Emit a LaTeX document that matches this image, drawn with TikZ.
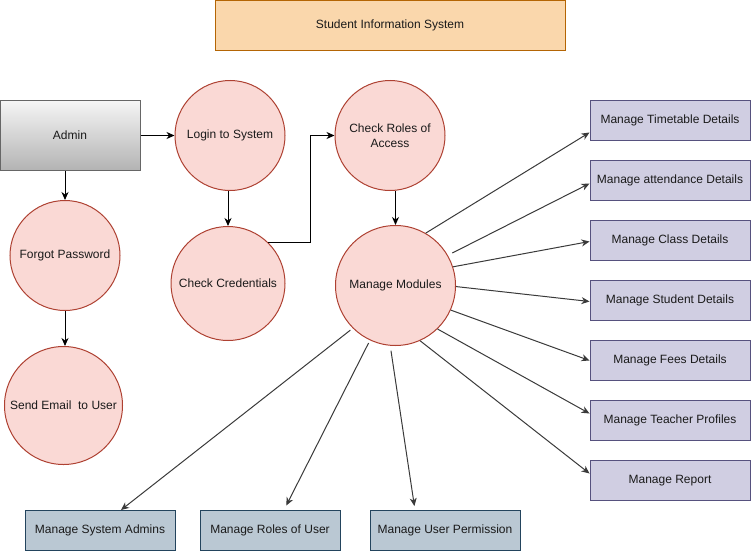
\documentclass[tikz,border=0pt]{standalone}
\usepackage{fontspec}
\setmainfont{Liberation Sans}
\usetikzlibrary{arrows.meta,shapes.geometric}
\definecolor{circfill}{HTML}{FAD9D5}
\definecolor{circline}{HTML}{AE4132}
\definecolor{purpfill}{HTML}{D0CEE2}
\definecolor{purpline}{HTML}{56517E}
\definecolor{bluefill}{HTML}{BAC8D3}
\definecolor{blueline}{HTML}{23445D}
\definecolor{orfill}{HTML}{FAD7AC}
\definecolor{orline}{HTML}{B46504}
\definecolor{admtop}{HTML}{F5F5F5}
\definecolor{admbot}{HTML}{B3B3B3}
\definecolor{admline}{HTML}{666666}
\definecolor{txt}{HTML}{1A1A1A}
\definecolor{ray}{HTML}{3A3A3A}
\tikzset{
  every node/.style={font=\fontsize{12}{14.5}\selectfont, text=txt, align=center},
  proc/.style={circle, draw=circline, fill=circfill, line width=1pt, inner sep=0pt},
  purpbox/.style={rectangle, draw=purpline, fill=purpfill, line width=1pt, minimum width=160pt, minimum height=40pt, inner sep=0pt},
  bluebox/.style={rectangle, draw=blueline, fill=bluefill, line width=1pt, minimum height=40pt, inner sep=0pt},
  flow/.style={-{Stealth[length=8pt,width=7pt,inset=2.5pt]}, line width=1pt, draw=black},
  rayflow/.style={-{Stealth[length=8pt,width=7pt,inset=2.5pt]}, line width=1pt, draw=ray},
}
\begin{document}
\begin{tikzpicture}[x=1pt,y=-1pt]
\useasboundingbox (0,0) rectangle (751,551);
% title
\node[rectangle, draw=orline, fill=orfill, line width=1pt, minimum width=350pt, minimum height=50pt, inner sep=0pt] (title) at (390,25.5) {Student Information System};
% admin
\node[rectangle, draw=admline, top color=admtop, bottom color=admbot, line width=1pt, minimum width=140pt, minimum height=70pt, inner sep=0pt] (admin) at (70,135.5) {Admin};
% processes
\node[proc, minimum size=110pt] (login) at (230,135.5) {Login to System};
\node[proc, minimum size=110pt] (roles) at (390,135.5) {Check Roles of\\Access};
\node[proc, minimum size=110pt] (forgot) at (65,255.5) {Forgot Password};
\node[proc, minimum size=114pt] (cred) at (228,283.5) {Check Credentials};
\node[proc, minimum size=120pt] (mm) at (395.5,285.5) {Manage Modules};
\node[proc, minimum size=118pt] (email) at (63.5,405.5) {Send Email\ \ to User};
% right boxes
\node[purpbox] (tt) at (670,120.5) {Manage Timetable Details};
\node[purpbox] (att) at (670,180.5) {Manage attendance Details};
\node[purpbox] (cls) at (670,240.5) {Manage Class Details};
\node[purpbox] (stu) at (670,300.5) {Manage Student Details};
\node[purpbox] (fee) at (670,360.5) {Manage Fees Details};
\node[purpbox] (tea) at (670,420.5) {Manage Teacher Profiles};
\node[purpbox] (rep) at (670,480.5) {Manage Report};
% bottom boxes
\node[bluebox, minimum width=150pt] (sa) at (100,530.5) {Manage System Admins};
\node[bluebox, minimum width=140pt] (ru) at (270,530.5) {Manage Roles of User};
\node[bluebox, minimum width=150pt] (up) at (445,530.5) {Manage User Permission};
% left flows
\draw[flow] (admin.east) -- (login.west);
\draw[flow] (admin.south -| forgot.north) -- (forgot.north);
\draw[flow] (forgot.south) -- (forgot.south |- email.north);
\draw[flow] (login.south -| cred.north) -- (cred.north);
\coordinate (bend) at (310.5,200);
\draw[flow] (cred.46) -| (bend) |- (roles.west);
\draw[flow] (roles.south -| mm.north) -- (mm.north);
% radiating flows
\draw[rayflow] (mm.60) -- ([yshift=-12pt]tt.west);
\draw[rayflow, shorten <=5pt] (mm.30) -- ([yshift=-3pt]att.west);
\draw[rayflow] (mm.18) -- ([yshift=-1pt]cls.west);
\draw[rayflow] (mm.-1) -- ([yshift=-1pt]stu.west);
\draw[rayflow] (mm.-24) -- (fee.west);
\draw[rayflow] (mm.-46) -- ([yshift=7pt]tea.west);
\draw[rayflow] (mm.-66) -- ([yshift=7pt]rep.west);
\draw[rayflow, shorten <=3pt] (mm.-135) -- ([xshift=21pt]sa.north);
\draw[rayflow, shorten <=3pt, shorten >=5pt] (mm.-115) -- ([xshift=14pt]ru.north);
\draw[rayflow, shorten <=5pt, shorten >=4pt] (mm.-95) -- ([xshift=-30pt]up.north);
\end{tikzpicture}
\end{document}
